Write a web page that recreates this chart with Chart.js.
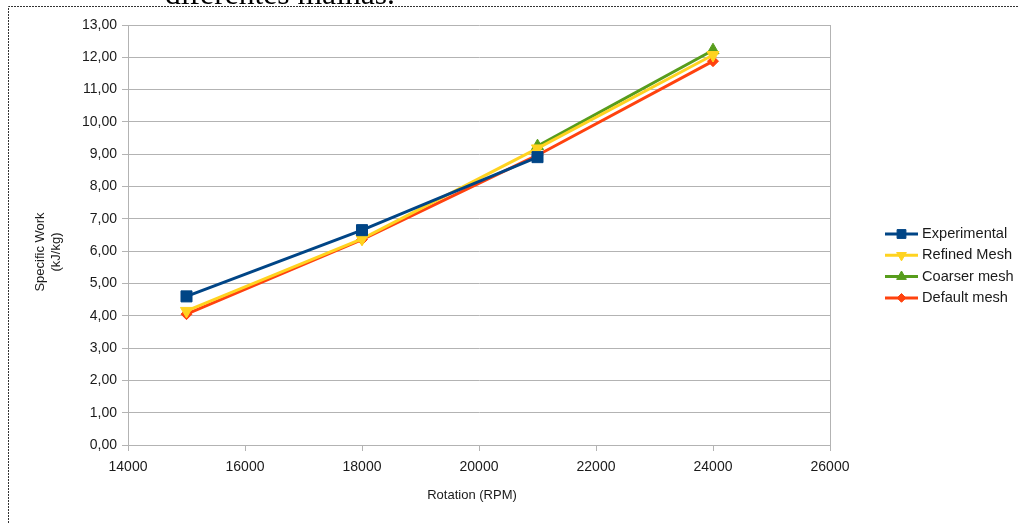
<!DOCTYPE html>
<html>
<head>
<meta charset="utf-8">
<script src="https://cdn.jsdelivr.net/npm/chart.js@4/dist/chart.umd.min.js"></script>
<style>
  html, body { margin: 0; padding: 0; background: #fff; }
  #wrap { position: relative; width: 1018px; height: 523px; overflow: hidden; }
  canvas { position: absolute; left: 0; top: 0; }
</style>
</head>
<body>
<div id="wrap"><canvas id="c" width="1018" height="523"></canvas></div>
<script>
// Rotation speeds (RPM) and specific work (kJ/kg) per series
const rpm = [15000, 18000, 21000, 24000];
const experimental = [4.60, 6.65, 8.91, null];
const refinedMesh = [4.15, 6.38, 9.18, 12.07];
const coarserMesh = [null, null, 9.25, 12.22];
const defaultMesh = [4.05, 6.36, 8.97, 11.88];

const seriesNames = ['Experimental', 'Refined Mesh', 'Coarser mesh', 'Default mesh'];
const seriesColors = ['#004586', '#ffd320', '#579d1c', '#ff420e'];

const xTickValues = [14000, 16000, 18000, 20000, 22000, 24000, 26000];
const yTickValues = [0, 1, 2, 3, 4, 5, 6, 7, 8, 9, 10, 11, 12, 13];

const xTitle = 'Rotation (RPM)';
const yTitle = ['Specific Work', '(kJ/kg)'];
const caption = 'diferentes malhas.';

const TEXT = '#1a1a1a';
const GRID = '#b3b3b3';
const SANS = '"Liberation Sans", Arial, sans-serif';

function points(values) {
  return values
    .map((v, i) => ({ x: rpm[i], y: v }))
    .filter(p => p.y !== null);
}

const markers = [
  { pointStyle: 'rect', radius: 7.8, rotation: 0 },
  { pointStyle: 'triangle', radius: 7, rotation: 180 },
  { pointStyle: 'triangle', radius: 7, rotation: 0 },
  { pointStyle: 'rectRot', radius: 5.5, rotation: 0 }
];

const seriesValues = [experimental, refinedMesh, coarserMesh, defaultMesh];

const datasets = seriesValues.map((vals, i) => ({
  label: seriesNames[i],
  data: points(vals),
  borderColor: seriesColors[i],
  backgroundColor: seriesColors[i],
  borderWidth: 3,
  pointStyle: markers[i].pointStyle,
  pointRadius: markers[i].radius,
  pointRotation: markers[i].rotation,
  pointBorderWidth: 1,
  pointHoverRadius: markers[i].radius,
  tension: 0,
  fill: false
}));

// Frame, caption, axis titles, plot border and legend drawn around the plot
const decorations = {
  id: 'decorations',
  beforeDraw(chart) {
    const ctx = chart.ctx;
    ctx.save();
    // caption line above the figure frame
    ctx.fillStyle = '#000';
    let size = 30;
    ctx.font = size + 'px "Liberation Serif", "DejaVu Serif", serif';
    const w = ctx.measureText(caption).width;
    size = size * 230 / w;
    ctx.font = size + 'px "Liberation Serif", "DejaVu Serif", serif';
    ctx.textBaseline = 'alphabetic';
    ctx.textAlign = 'left';
    ctx.fillText(caption, 165, 4);
    // dashed frame
    ctx.strokeStyle = '#333';
    ctx.lineWidth = 1;
    ctx.setLineDash([2, 1]);
    ctx.beginPath();
    ctx.moveTo(8.5, 523);
    ctx.lineTo(8.5, 6.5);
    ctx.lineTo(1018, 6.5);
    ctx.stroke();
    ctx.restore();
  },
  afterDraw(chart) {
    const ctx = chart.ctx;
    const a = chart.chartArea;
    ctx.save();
    // right plot border
    ctx.strokeStyle = GRID;
    ctx.lineWidth = 1;
    ctx.beginPath();
    ctx.moveTo(Math.round(a.right) + 0.5, a.top);
    ctx.lineTo(Math.round(a.right) + 0.5, a.bottom);
    ctx.stroke();

    // axis titles
    ctx.fillStyle = TEXT;
    ctx.font = '13px ' + SANS;
    ctx.textAlign = 'center';
    ctx.textBaseline = 'middle';
    ctx.fillText(xTitle, 472, 495);
    ctx.save();
    ctx.translate(48, 252);
    ctx.rotate(-Math.PI / 2);
    ctx.fillText(yTitle[0], 0, -8);
    ctx.fillText(yTitle[1], 0, 8);
    ctx.restore();

    // legend
    const x0 = 885, x1 = 918, yStart = 234, step = 21.3;
    chart.data.datasets.forEach((ds, i) => {
      const y = yStart + i * step;
      ctx.strokeStyle = ds.borderColor;
      ctx.lineWidth = 3;
      ctx.beginPath();
      ctx.moveTo(x0, y);
      ctx.lineTo(x1, y);
      ctx.stroke();
      ctx.fillStyle = ds.backgroundColor;
      ctx.lineWidth = 1;
      Chart.helpers.drawPoint(ctx, {
        pointStyle: ds.pointStyle,
        rotation: ds.pointRotation,
        radius: ds.pointRadius * 0.8,
        borderWidth: 1
      }, (x0 + x1) / 2, y);
      ctx.fillStyle = TEXT;
      ctx.font = '14.6px ' + SANS;
      ctx.textAlign = 'left';
      ctx.textBaseline = 'middle';
      ctx.fillText(ds.label, 922, y);
    });
    ctx.restore();
  }
};

new Chart(document.getElementById('c'), {
  type: 'line',
  data: { datasets },
  options: {
    responsive: false,
    animation: false,
    events: [],
    layout: { padding: { left: 0, top: 25, right: 188, bottom: 0 } },
    plugins: {
      legend: { display: false },
      tooltip: { enabled: false },
      title: { display: false }
    },
    scales: {
      x: {
        type: 'linear',
        min: xTickValues[0],
        max: xTickValues[xTickValues.length - 1],
        afterBuildTicks(scale) { scale.ticks = xTickValues.map(v => ({ value: v })); },
        afterFit(scale) {
          scale.height = 78;
          scale.paddingLeft = 0; scale.paddingRight = 0;
        },
        ticks: {
          color: TEXT,
          font: { family: SANS, size: 14 },
          padding: 8,
          maxRotation: 0,
          autoSkip: false,
          callback: v => String(v)
        },
        grid: { drawOnChartArea: false, color: GRID, tickColor: GRID, tickLength: 6 },
        border: { color: GRID, width: 1 }
      },
      y: {
        min: yTickValues[0],
        max: yTickValues[yTickValues.length - 1],
        afterBuildTicks(scale) { scale.ticks = yTickValues.map(v => ({ value: v })); },
        afterFit(scale) {
          scale.width = 128;
          scale.paddingTop = 0; scale.paddingBottom = 0;
        },
        ticks: {
          color: TEXT,
          font: { family: SANS, size: 14 },
          padding: 5,
          autoSkip: false,
          callback: v => v.toFixed(2).replace('.', ',')
        },
        grid: { color: GRID, tickColor: GRID, tickLength: 6 },
        border: { color: GRID, width: 1 }
      }
    }
  },
  plugins: [decorations]
});
</script>
</body>
</html>
